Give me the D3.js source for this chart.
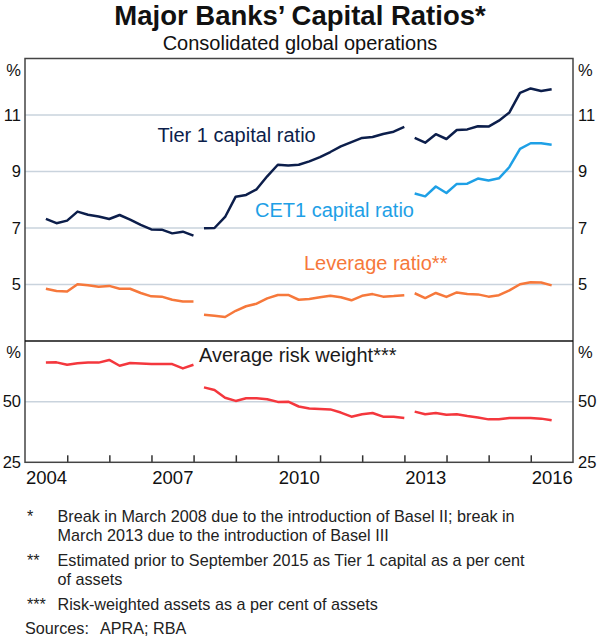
<!DOCTYPE html>
<html>
<head>
<meta charset="utf-8">
<script src="https://cdn.jsdelivr.net/npm/d3@7"></script>
<style>
  body { margin: 0; background: #fff; }
  svg { font-family: "Liberation Sans", Arial, sans-serif; }
  .tick text { fill: #111; }
</style>
</head>
<body>
<div id="chart"></div>
<script>
// quarters for each regulatory regime (break at Basel II and Basel III)
const basel1Quarters = ["2004Q2","2004Q3","2004Q4","2005Q1","2005Q2","2005Q3","2005Q4",
  "2006Q1","2006Q2","2006Q3","2006Q4","2007Q1","2007Q2","2007Q3","2007Q4"];
const basel2Quarters = ["2008Q1","2008Q2","2008Q3","2008Q4","2009Q1","2009Q2","2009Q3","2009Q4",
  "2010Q1","2010Q2","2010Q3","2010Q4","2011Q1","2011Q2","2011Q3","2011Q4",
  "2012Q1","2012Q2","2012Q3","2012Q4"];
const basel3Quarters = ["2013Q1","2013Q2","2013Q3","2013Q4","2014Q1","2014Q2","2014Q3","2014Q4",
  "2015Q1","2015Q2","2015Q3","2015Q4","2016Q1","2016Q2"];

// Tier 1 capital ratio, %
const tier1Basel1 = [7.32, 7.17, 7.26, 7.58, 7.47, 7.41, 7.32, 7.46, 7.30, 7.11, 6.95, 6.94, 6.81, 6.87, 6.73];
const tier1Basel2 = [6.99, 7.00, 7.39, 8.11, 8.17, 8.37, 8.83, 9.24, 9.21, 9.24,
  9.36, 9.51, 9.69, 9.89, 10.04, 10.19, 10.22, 10.33, 10.41, 10.58];
const tier1Basel3 = [10.19, 10.02, 10.32, 10.15, 10.47, 10.49, 10.60, 10.59, 10.80, 11.09, 11.78, 11.94, 11.85, 11.91];

// CET1 capital ratio, %
const cet1Basel3 = [8.22, 8.12, 8.47, 8.24, 8.56, 8.57, 8.75, 8.68, 8.76, 9.16, 9.80, 10.00, 10.00, 9.95];

// Leverage ratio, %
const leverageBasel1 = [4.85, 4.77, 4.75, 5.01, 4.97, 4.92, 4.95, 4.85, 4.85, 4.70, 4.58, 4.57, 4.46, 4.40, 4.40];
const leverageBasel2 = [3.93, 3.89, 3.85, 4.07, 4.23, 4.32, 4.51, 4.63, 4.63, 4.46,
  4.49, 4.55, 4.60, 4.55, 4.44, 4.60, 4.66, 4.57, 4.59, 4.62];
const leverageBasel3 = [4.69, 4.52, 4.70, 4.56, 4.72, 4.66, 4.65, 4.57, 4.62, 4.79, 5.01, 5.08, 5.07, 4.97];

// Average risk weight, %
const riskBasel1 = [66.1, 66.2, 65.2, 65.8, 66.1, 66.1, 67.2, 64.8, 65.9, 65.7, 65.5, 65.5, 65.5, 63.7, 65.2];
const riskBasel2 = [55.9, 54.8, 51.6, 50.3, 51.4, 51.4, 51.0, 49.9, 50.0, 48.0,
  47.2, 47.0, 46.8, 45.5, 43.8, 44.8, 45.3, 43.8, 43.8, 43.3];
const riskBasel3 = [45.9, 44.8, 45.3, 44.6, 44.8, 44.1, 43.5, 42.7, 42.7, 43.3, 43.3, 43.3, 43.0, 42.3];

const topTicks = [5, 7, 9, 11];
const bottomTicks = [25, 50];
const yearLabels = [2004, 2007, 2010, 2013, 2016];

const footnotes = [
  ["*", ["Break in March 2008 due to the introduction of Basel II; break in",
         "March 2013 due to the introduction of Basel III"]],
  ["**", ["Estimated prior to September 2015 as Tier 1 capital as a per cent",
          "of assets"]],
  ["***", ["Risk-weighted assets as a per cent of assets"]]
];

const width = 600, height = 637;
const plotLeft = 25, plotRight = 573, plotTop = 58.5, plotMid = 341, plotBottom = 462.3;

// last day of the quarter
const qDate = s => new Date(+s.slice(0, 4), +s.slice(5) * 3, 0);
const zip = (qs, vs) => qs.map((q, i) => ({date: qDate(q), value: vs[i]}));

const x = d3.scaleTime()
    .domain([new Date(2004, 0, 1), new Date(2017, 0, 1)])
    .range([plotLeft, plotRight]);

const yTop = d3.scaleLinear()
    .domain([3, 13])
    .range([plotMid, plotTop]);

const yBot = d3.scaleLinear()
    .domain([25, 75])
    .range([plotBottom, plotMid]);

const svg = d3.select("#chart").append("svg")
    .attr("width", width)
    .attr("height", height);

// title
svg.append("text")
    .attr("x", 300).attr("y", 24.5)
    .attr("text-anchor", "middle")
    .style("font-size", "27.5px").style("font-weight", "bold")
    .style("fill", "#111")
    .text("Major Banks’ Capital Ratios*");

svg.append("text")
    .attr("x", 300).attr("y", 49.5)
    .attr("text-anchor", "middle")
    .style("font-size", "20px")
    .style("fill", "#111")
    .text("Consolidated global operations");

// gridlines
svg.selectAll(".gridTop").data(topTicks).enter()
    .append("line")
    .attr("x1", plotLeft).attr("x2", plotRight)
    .attr("y1", d => yTop(d)).attr("y2", d => yTop(d))
    .style("stroke", "#c9d3dd").style("stroke-width", 1.5);

svg.selectAll(".gridBot").data([50]).enter()
    .append("line")
    .attr("x1", plotLeft).attr("x2", plotRight)
    .attr("y1", d => yBot(d)).attr("y2", d => yBot(d))
    .style("stroke", "#c9d3dd").style("stroke-width", 1.5);

// y axes
function yAxis(axis, scale, ticks, xPos) {
  const g = svg.append("g")
      .attr("transform", "translate(" + xPos + ",0)")
      .call(axis(scale).tickValues(ticks).tickSize(0).tickPadding(axis === d3.axisLeft ? 4 : 5));
  g.select(".domain").remove();
  g.selectAll("text").style("font-size", "16.5px");
  return g;
}
yAxis(d3.axisLeft, yTop, topTicks, plotLeft);
yAxis(d3.axisRight, yTop, topTicks, plotRight);
yAxis(d3.axisLeft, yBot, bottomTicks, plotLeft);
yAxis(d3.axisRight, yBot, bottomTicks, plotRight);

[plotTop, plotMid].forEach(yy => {
  svg.append("text").attr("x", plotLeft - 4).attr("y", yy + 17)
      .attr("text-anchor", "end").style("font-size", "16.5px").style("fill", "#111").text("%");
  svg.append("text").attr("x", plotRight + 5).attr("y", yy + 17)
      .style("font-size", "16.5px").style("fill", "#111").text("%");
});

// x axis: year boundary ticks pointing up, labels centred in each year
const boundaries = d3.range(2005, 2017).map(yr => new Date(yr, 0, 1));
const xTicks = svg.append("g")
    .attr("transform", "translate(0," + plotBottom + ")")
    .call(d3.axisTop(x).tickValues(boundaries).tickSize(7).tickFormat(""));
xTicks.select(".domain").remove();
xTicks.selectAll("line").style("stroke", "#333").style("stroke-width", 1.5);

const xLabels = svg.append("g")
    .attr("transform", "translate(0," + plotBottom + ")")
    .call(d3.axisBottom(x)
      .tickValues(yearLabels.map(yr => new Date(yr, 6, 1)))
      .tickSize(0).tickPadding(9)
      .tickFormat(d3.timeFormat("%Y")));
xLabels.select(".domain").remove();
xLabels.selectAll("text").style("font-size", "18.5px");

// lines
const lineTop = d3.line().x(d => x(d.date)).y(d => yTop(d.value));
const lineBot = d3.line().x(d => x(d.date)).y(d => yBot(d.value));

const series = [
  {data: zip(basel1Quarters, tier1Basel1), line: lineTop, color: "#0c1e4b"},
  {data: zip(basel2Quarters, tier1Basel2), line: lineTop, color: "#0c1e4b"},
  {data: zip(basel3Quarters, tier1Basel3), line: lineTop, color: "#0c1e4b"},
  {data: zip(basel3Quarters, cet1Basel3), line: lineTop, color: "#1ea0e6"},
  {data: zip(basel1Quarters, leverageBasel1), line: lineTop, color: "#f6783b"},
  {data: zip(basel2Quarters, leverageBasel2), line: lineTop, color: "#f6783b"},
  {data: zip(basel3Quarters, leverageBasel3), line: lineTop, color: "#f6783b"},
  {data: zip(basel1Quarters, riskBasel1), line: lineBot, color: "#f4373d"},
  {data: zip(basel2Quarters, riskBasel2), line: lineBot, color: "#f4373d"},
  {data: zip(basel3Quarters, riskBasel3), line: lineBot, color: "#f4373d"}
];

series.forEach(s => {
  svg.append("path")
      .datum(s.data)
      .attr("d", s.line)
      .style("fill", "none")
      .style("stroke", s.color)
      .style("stroke-width", 2.5)
      .style("stroke-linejoin", "round");
});

// frame
svg.append("rect")
    .attr("x", plotLeft).attr("y", plotTop)
    .attr("width", plotRight - plotLeft).attr("height", plotBottom - plotTop)
    .style("fill", "none").style("stroke", "#444").style("stroke-width", 1.5);
svg.append("line")
    .attr("x1", plotLeft).attr("x2", plotRight).attr("y1", plotMid).attr("y2", plotMid)
    .style("stroke", "#111").style("stroke-width", 1.5);

// series labels
const labels = [
  {text: "Tier 1 capital ratio", x: 157.5, y: 141.5, color: "#0c1e4b"},
  {text: "CET1 capital ratio", x: 255, y: 216.5, color: "#1ea0e6"},
  {text: "Leverage ratio**", x: 304, y: 270, color: "#f6783b"},
  {text: "Average risk weight***", x: 199, y: 362, color: "#1a1a1a"}
];
svg.selectAll(".label").data(labels).enter()
    .append("text")
    .attr("x", d => d.x).attr("y", d => d.y)
    .style("font-size", "20px")
    .style("fill", d => d.color)
    .text(d => d.text);

// footnotes
let fy = 521.5;
footnotes.forEach(([mark, lines]) => {
  svg.append("text").attr("x", 27).attr("y", fy)
      .style("font-size", "16.2px").style("fill", "#222").text(mark);
  lines.forEach(l => {
    svg.append("text").attr("x", 57.5).attr("y", fy)
        .style("font-size", "16.2px").style("fill", "#222").text(l);
    fy += 19;
  });
  fy += 6;
});
svg.append("text").attr("x", 25).attr("y", 634)
    .style("font-size", "16.2px").style("fill", "#222").text("Sources:");
svg.append("text").attr("x", 100).attr("y", 634)
    .style("font-size", "16.2px").style("fill", "#222").text("APRA; RBA");
</script>
</body>
</html>
